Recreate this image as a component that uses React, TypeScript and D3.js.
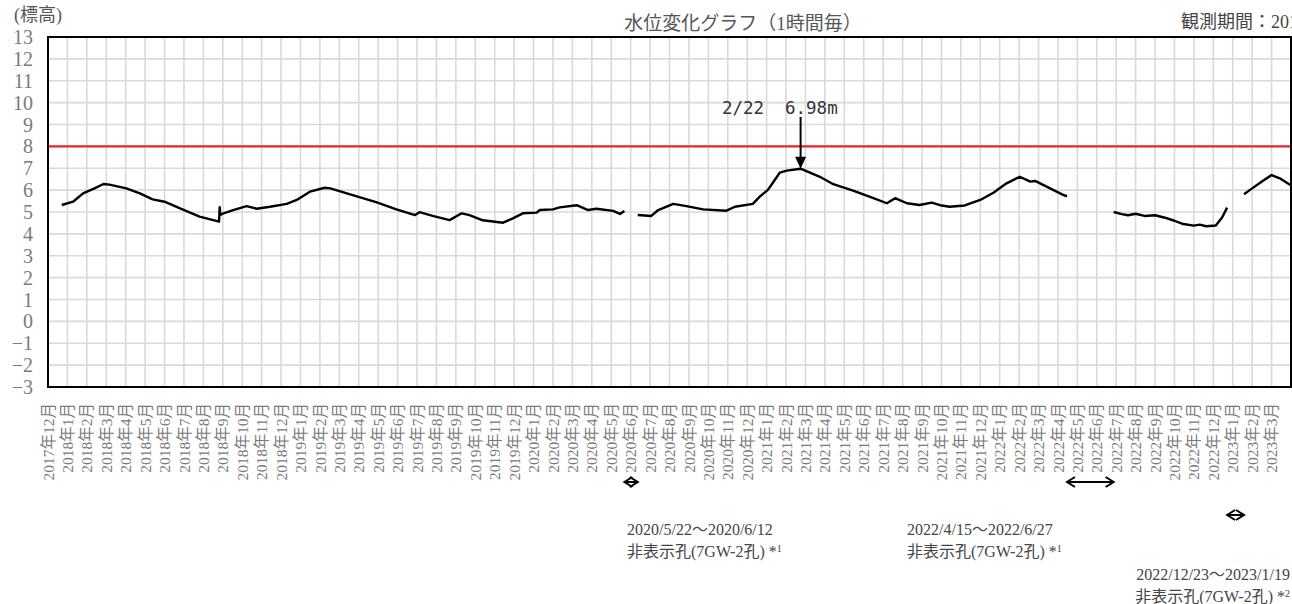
import * as d3 from "d3";

// 観測データ（1時間毎の水位を目視で読み取り、null は欠測区間）
const levelDates = [
  "2017-12-23", "2018-01-10", "2018-01-26", "2018-02-12", "2018-02-25", "2018-03-06",
  "2018-04-02", "2018-04-23", "2018-05-13", "2018-06-01", "2018-06-25", "2018-07-26",
  "2018-08-26", "2018-08-27", "2018-08-28", "2018-09-02", "2018-09-17", "2018-10-08",
  "2018-10-24", "2018-11-14", "2018-12-10", "2018-12-26", "2019-01-16", "2019-02-08",
  "2019-02-16", "2019-03-17", "2019-04-29", "2019-05-30", "2019-06-28", "2019-07-05",
  "2019-07-26", "2019-08-22", "2019-09-10", "2019-09-22", "2019-10-13", "2019-11-14",
  "2019-11-29", "2019-12-15", "2020-01-06", "2020-01-11", "2020-02-01", "2020-02-11",
  "2020-03-08", "2020-03-26", "2020-04-08", "2020-05-04", "2020-05-15", "2020-05-22",
  "2020-06-01",
  "2020-06-12", "2020-07-03", "2020-07-14", "2020-08-07", "2020-08-28", "2020-09-23",
  "2020-10-30", "2020-11-12", "2020-12-10", "2020-12-21", "2021-01-03", "2021-01-14",
  "2021-01-22", "2021-02-02", "2021-02-22", "2021-03-24", "2021-04-14", "2021-05-15",
  "2021-06-16", "2021-07-07", "2021-07-20", "2021-08-08", "2021-08-28", "2021-09-16",
  "2021-09-29", "2021-10-14", "2021-11-07", "2021-12-01", "2021-12-22", "2022-01-12",
  "2022-02-02", "2022-02-17", "2022-02-24", "2022-03-14", "2022-04-09", "2022-04-15",
  "2022-05-20",
  "2022-06-27", "2022-07-10", "2022-07-20", "2022-08-01", "2022-08-15", "2022-09-01",
  "2022-09-15", "2022-10-01", "2022-10-15", "2022-11-01", "2022-11-10", "2022-11-20",
  "2022-12-05", "2022-12-15", "2022-12-23",
  "2023-01-05",
  "2023-01-19", "2023-01-28", "2023-02-15", "2023-03-01", "2023-03-14", "2023-03-31",
];
const levelValues: (number | null)[] = [
  5.32, 5.47, 5.85, 6.08, 6.28, 6.25,
  6.08, 5.85, 5.58, 5.47, 5.17, 4.79,
  4.56, 5.22, 4.86, 4.94, 5.09, 5.27,
  5.15, 5.24, 5.37, 5.55, 5.93, 6.11,
  6.08, 5.82, 5.44, 5.12, 4.86, 4.99,
  4.82, 4.63, 4.94, 4.86, 4.62, 4.51,
  4.71, 4.94, 4.97, 5.09, 5.12, 5.21,
  5.31, 5.09, 5.15, 5.05, 4.91, 5.05,
  null,
  4.86, 4.82, 5.09, 5.37, 5.27, 5.12,
  5.06, 5.24, 5.37, 5.7, 6.01, 6.46,
  6.8, 6.89, 6.98, 6.61, 6.27, 5.98,
  5.63, 5.4, 5.63, 5.4, 5.32, 5.43,
  5.31, 5.24, 5.3, 5.55, 5.88, 6.31,
  6.61, 6.39, 6.42, 6.16, 5.78, 5.72,
  null,
  5.0, 4.9, 4.85, 4.92, 4.82, 4.85,
  4.75, 4.6, 4.45, 4.38, 4.42, 4.35,
  4.38, 4.75, 5.2,
  null,
  5.81, 6.0, 6.39, 6.69, 6.54, 6.23,
];

const yTicks = d3.range(-3, 14);
const alertLevel = 8;
const peakDate = "2021-02-22";
const peakValue = 6.98;

// 非表示期間
const gapStarts = ["2020-05-22", "2022-04-15", "2022-12-23"];
const gapEnds = ["2020-06-12", "2022-06-27", "2023-01-19"];
const gapLabels = ["2020/5/22～2020/6/12", "2022/4/15～2022/6/27", "2022/12/23～2023/1/19"];
const gapNotes = ["1", "1", "2"];

const months = d3.timeMonth.range(new Date(2017, 11, 1), new Date(2023, 3, 1));
const monthLabels = months.map((d) => `${d.getFullYear()}年${d.getMonth() + 1}月`);

const W = 1292;
const H = 604;
const left = 48;
const right = 1291;
const top = 37;
const bottom = 387;

const SERIF = "'Liberation Serif','Noto Sans CJK JP',serif";

function monthPos(s: string) {
  const [y, m, d] = s.split("-").map(Number);
  const dim = new Date(y, m, 0).getDate();
  return (y - 2017) * 12 + (m - 12) + (d - 1) / dim;
}

export default function App() {
  const x = d3.scaleLinear().domain([0, months.length]).range([left, right]);
  const y = d3.scaleLinear().domain([-3, 13]).range([bottom, top]);

  const points = levelDates.map((d, i) => ({ t: monthPos(d), v: levelValues[i] }));
  const line = d3
    .line<{ t: number; v: number | null }>()
    .defined((d) => d.v != null)
    .x((d) => x(d.t))
    .y((d) => y(d.v as number));

  const px = x(monthPos(peakDate));
  const py = y(peakValue);

  // 両矢印（小さな開いた矢じり）
  const gapArrow = (i: number, ay: number) => {
    const x1 = x(monthPos(gapStarts[i]));
    const x2 = x(monthPos(gapEnds[i]));
    const h = 8;
    const w = 5;
    return (
      <g key={"ga" + i} stroke="#000" strokeWidth={2} fill="none">
        <line x1={x1} x2={x2} y1={ay} y2={ay} />
        <path d={`M${x1 + h},${ay - w}L${x1},${ay}L${x1 + h},${ay + w}`} />
        <path d={`M${x2 - h},${ay - w}L${x2},${ay}L${x2 - h},${ay + w}`} />
      </g>
    );
  };

  const note = (i: number, tx: number, ty: number, anchor: "start" | "end") => (
    <g key={"gn" + i} fontFamily={SERIF} fontSize={16} fill="#444" textAnchor={anchor}>
      <text x={tx} y={ty}>{gapLabels[i]}</text>
      <text x={tx} y={ty + 22}>
        非表示孔(7GW-2孔) *<tspan fontSize={10} dy={-5}>{gapNotes[i]}</tspan>
      </text>
    </g>
  );

  return (
    <div style={{ position: "absolute", left: 0, top: 0 }}>
      <svg width={W} height={H} style={{ display: "block", background: "#fff" }}>
        <rect width={W} height={H} fill="#fff" />

        {/* グリッド */}
        <g stroke="#d9d9d9" strokeWidth={1.6}>
          {d3.range(1, months.length).map((i) => (
            <line key={"v" + i} x1={x(i)} x2={x(i)} y1={top} y2={bottom} />
          ))}
          {yTicks.slice(1, -1).map((v) => (
            <line key={"h" + v} x1={left} x2={right} y1={y(v)} y2={y(v)} />
          ))}
        </g>

        {/* 警戒線 */}
        <line x1={left} x2={right} y1={y(alertLevel)} y2={y(alertLevel)} stroke="#e8262b" strokeWidth={2.2} />

        {/* 水位 */}
        <path d={line(points) ?? ""} fill="none" stroke="#000" strokeWidth={2.4} strokeLinejoin="round" />

        {/* 枠 */}
        <rect x={left} y={top} width={right - left} height={bottom - top} fill="none" stroke="#000" strokeWidth={2} />

        {/* Y軸 */}
        <g fontFamily={SERIF} fontSize={20} fill="#7a7a7a" textAnchor="end">
          {yTicks.map((v) => (
            <text key={v} x={33} y={y(v)} dy="0.35em">
              {v < 0 ? "−" + Math.abs(v) : v}
            </text>
          ))}
        </g>
        <text x={14} y={21} fontFamily={SERIF} fontSize={18} fill="#555">(標高)</text>

        {/* X軸ラベル */}
        <g fontFamily={SERIF} fontSize={15.5} fill="#7a7a7a" textAnchor="end">
          {monthLabels.map((l, i) => (
            <text key={l} transform={`translate(${x(i)},${bottom + 16}) rotate(-90)`} dy="0.36em">
              {l}
            </text>
          ))}
        </g>

        {/* タイトル */}
        <text x={743} y={30} textAnchor="middle" fontFamily={SERIF} fontSize={19} fill="#555">
          水位変化グラフ（1時間毎）
        </text>
        <text x={1181} y={28} fontFamily={SERIF} fontSize={18} fill="#444">
          観測期間：2017年12月～2023年3月
        </text>

        {/* ピーク注記 */}
        <g fontFamily="'DejaVu Sans Mono',monospace" fontSize={17.5} fill="#333">
          <text x={722} y={114}>2/22</text>
          <text x={785} y={114}>6.98m</text>
        </g>
        <line x1={px} x2={px} y1={117} y2={py - 10} stroke="#000" strokeWidth={2} />
        <path d={`M${px - 5.5},${py - 12}L${px + 5.5},${py - 12}L${px},${py}Z`} fill="#000" />

        {/* 非表示期間 */}
        {gapArrow(0, 482)}
        {gapArrow(1, 482)}
        {gapArrow(2, 515)}
        {note(0, 627, 535, "start")}
        {note(1, 907, 535, "start")}
        {note(2, 1290, 580, "end")}
      </svg>
    </div>
  );
}
